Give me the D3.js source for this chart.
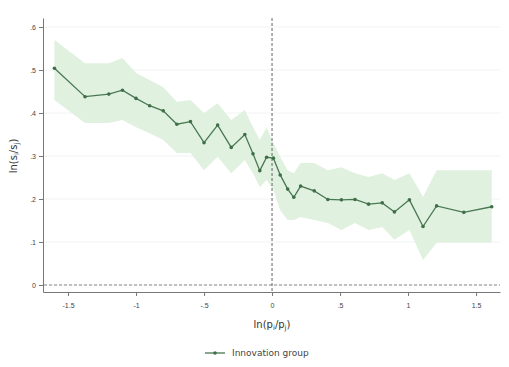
<!DOCTYPE html>
<html><head><meta charset="utf-8">
<script src="https://cdn.jsdelivr.net/npm/d3@7"></script>
<style>
html,body{margin:0;padding:0;background:#fff;}
svg{display:block;font-family:"DejaVu Sans",sans-serif;}
</style></head>
<body>
<svg id="chart" width="509" height="367"></svg>
<script>
const xVals = [-1.6,-1.375,-1.2,-1.1,-1.0,-0.9,-0.8,-0.7,-0.6,-0.5,-0.4,-0.3,-0.2,-0.14,-0.09,-0.04,0.01,0.06,0.115,0.16,0.21,0.31,0.41,0.51,0.61,0.71,0.81,0.9,1.01,1.11,1.21,1.41,1.615];
const estimate = [.504,.438,.444,.453,.434,.417,.405,.374,.380,.331,.372,.320,.350,.305,.266,.297,.295,.256,.223,.204,.230,.219,.199,.198,.199,.188,.191,.170,.198,.136,.184,.169,.182];
const upper = [.570,.516,.516,.528,.493,.477,.460,.426,.430,.400,.423,.384,.407,.367,.337,.367,.330,.298,.267,.260,.284,.284,.267,.274,.260,.251,.260,.244,.260,.205,.267,.267,.267];
const lower = [.430,.377,.377,.384,.367,.353,.337,.307,.307,.267,.298,.260,.291,.260,.228,.244,.221,.174,.151,.151,.158,.151,.144,.128,.144,.128,.135,.105,.128,.058,.098,.098,.098];
const xTicks = [-1.5,-1,-0.5,0,0.5,1,1.5];
const xTickLabels = ["-1.5","-1","-.5","0",".5","1","1.5"];
const yTicks = [0,0.1,0.2,0.3,0.4,0.5,0.6];
const yTickLabels = ["0",".1",".2",".3",".4",".5",".6"];
const seriesName = "Innovation group";

const svg = d3.select("#chart");
const x = d3.scaleLinear().domain([-1.684,1.676]).range([43,500]);
const y = d3.scaleLinear().domain([-0.0163,0.621]).range([292,18]);
const data = xVals.map((v,i)=>({x:v,e:estimate[i],u:upper[i],l:lower[i]}));

// grid
svg.append("g").selectAll("line").data(yTicks).join("line")
  .attr("x1",44).attr("x2",500).attr("y1",d=>y(d)).attr("y2",d=>y(d))
  .attr("stroke","#f0f2f2").attr("stroke-width",1);

// band
svg.append("path").datum(data)
  .attr("d",d3.area().x(d=>x(d.x)).y0(d=>y(d.l)).y1(d=>y(d.u)))
  .attr("fill","#e0f1e0");

// reference lines
svg.append("line").attr("x1",44).attr("x2",500).attr("y1",y(0)).attr("y2",y(0))
  .attr("stroke","#8a8a8a").attr("stroke-width",1).attr("stroke-dasharray","3,2");
svg.append("line").attr("x1",x(0)).attr("x2",x(0)).attr("y1",18).attr("y2",292)
  .attr("stroke","#666").attr("stroke-width",1).attr("stroke-dasharray","3,2");

// line + markers
svg.append("path").datum(data)
  .attr("d",d3.line().x(d=>x(d.x)).y(d=>y(d.e)))
  .attr("fill","none").attr("stroke","#4a7852").attr("stroke-width",1.3);
svg.append("g").selectAll("circle").data(data).join("circle")
  .attr("cx",d=>x(d.x)).attr("cy",d=>y(d.e)).attr("r",1.8).attr("fill","#3f6f48");

// axes
const xAxis = d3.axisBottom(x).tickValues(xTicks).tickFormat((d,i)=>xTickLabels[i]).tickSize(4).tickSizeOuter(0);
const gx = svg.append("g").attr("transform","translate(0,292)").call(xAxis);
gx.select(".domain").attr("stroke","#777");
gx.selectAll(".tick line").attr("stroke","#777");
gx.selectAll("text").attr("font-size",7).attr("fill","#444").attr("dy","1.3em");

const yAxis = d3.axisLeft(y).tickValues(yTicks).tickFormat((d,i)=>yTickLabels[i]).tickSize(4).tickSizeOuter(0);
const gy = svg.append("g").attr("transform","translate(43,0)").call(yAxis);
gy.select(".domain").attr("stroke","#777");
gy.selectAll(".tick line").attr("stroke","#777");
gy.selectAll("text").attr("font-size",7).attr("fill","#444");

// axis titles
const xt = svg.append("text").attr("x",272).attr("y",328).attr("text-anchor","middle")
  .attr("font-size",10).attr("fill","#333");
xt.append("tspan").text("ln(p");
xt.append("tspan").attr("font-size",7).attr("dy",2).text("i");
xt.append("tspan").attr("dy",-2).text("/p");
xt.append("tspan").attr("font-size",7).attr("dy",2).text("j");
xt.append("tspan").attr("dy",-2).text(")");

const yt = svg.append("text").attr("transform","translate(17,156) rotate(-90)").attr("text-anchor","middle")
  .attr("font-size",10).attr("fill","#333");
yt.append("tspan").text("ln(s");
yt.append("tspan").attr("font-size",7).attr("dy",2).text("i");
yt.append("tspan").attr("dy",-2).text("/s");
yt.append("tspan").attr("font-size",7).attr("dy",2).text("j");
yt.append("tspan").attr("dy",-2).text(")");

// legend
const lg = svg.append("g").attr("transform","translate(205,353)");
lg.append("line").attr("x1",0).attr("x2",20).attr("y1",0).attr("y2",0).attr("stroke","#4a7852").attr("stroke-width",1.3);
lg.append("circle").attr("cx",10).attr("cy",0).attr("r",1.8).attr("fill","#3f6f48");
lg.append("text").attr("x",27).attr("y",3).attr("font-size",9).attr("fill","#444").text(seriesName);
</script>
</body></html>
